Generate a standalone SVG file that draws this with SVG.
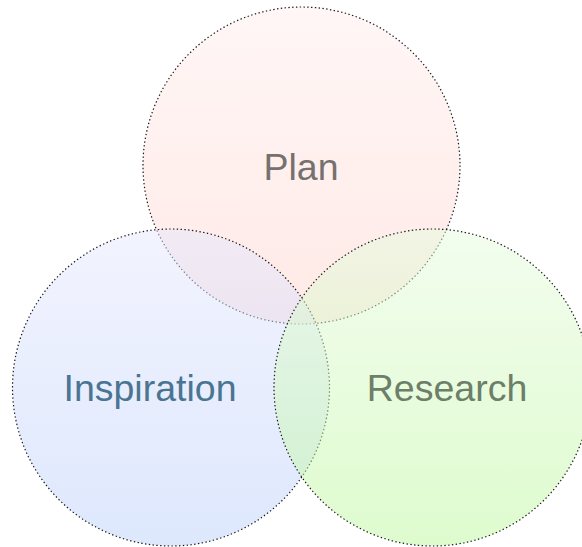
<svg xmlns="http://www.w3.org/2000/svg" width="582" height="547" viewBox="0 0 582 547">
<defs>
<linearGradient id="gP" x1="0" y1="0" x2="0" y2="1"><stop offset="0" stop-color="#ffeeec"/><stop offset="1" stop-color="#ffd4ce"/></linearGradient>
<linearGradient id="gI" x1="0" y1="0" x2="0" y2="1"><stop offset="0" stop-color="#e6e8fd"/><stop offset="1" stop-color="#bcd1fb"/></linearGradient>
<linearGradient id="gR" x1="0" y1="0" x2="0" y2="1"><stop offset="0" stop-color="#e6fbde"/><stop offset="1" stop-color="#bdf79d"/></linearGradient>
<style>
.c{fill-opacity:0.5;stroke:#1a1a1a;stroke-width:1.2;stroke-dasharray:1.4 2.4}
.t{font-family:"Liberation Sans",Arial,sans-serif;font-size:37.5px;text-anchor:middle}
</style>
</defs>
<rect width="582" height="547" fill="#fff"/>
<g id="plan">
<circle class="c" cx="301.5" cy="165.5" r="158.5" fill="url(#gP)"/>
<text class="t" x="301" y="180" fill="#76716f">Plan</text>
</g>
<g id="inspiration">
<circle class="c" cx="171" cy="387.5" r="158.5" fill="url(#gI)"/>
<text class="t" x="150" y="401" fill="#4a7592">Inspiration</text>
</g>
<g id="research">
<circle class="c" cx="432.5" cy="387.5" r="158.5" fill="url(#gR)"/>
<text class="t" x="447" y="401" fill="#6d7e69">Research</text>
</g>
<g id="connectors"/>
</svg>
